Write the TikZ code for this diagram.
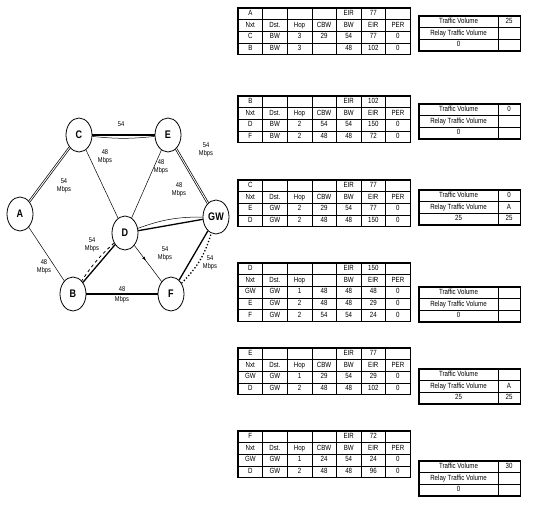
\documentclass[tikz,border=0pt]{standalone}
\usepackage{fontspec}
\setmainfont{Liberation Sans}
\newfontfamily\narrowfont[FakeStretch=0.82]{Liberation Sans}
\usetikzlibrary{positioning,shapes.geometric,arrows.meta,decorations.markings}
\tikzset{
  vert/.style={draw, ellipse, thick, minimum width=26pt, minimum height=34pt, inner sep=0pt,
    font=\narrowfont\fontsize{11}{11}\selectfont\bfseries, fill=white},
  link/.style={line width=1.3pt},
  dlink/.style={line width=0.7pt, double, double distance=0.9pt},
  weak/.style={line width=0.5pt},
  midarrow/.style={postaction={decorate}, decoration={markings,
    mark=at position 0.42 with {\arrow{Latex[length=4pt]}}}},
  lbl/.style={align=center, inner sep=0pt, font=\narrowfont\fontsize{7}{7.5}\selectfont},
  cell/.style={draw, line width=0.5pt, minimum width=24.6pt, minimum height=11.6pt, inner sep=0pt,
    text height=5.2pt, text depth=1.4pt, font=\narrowfont\fontsize{7.5}{7.5}\selectfont},
  wide/.style={cell, minimum width=79pt},
  narrow/.style={cell, minimum width=22pt},
  frame/.style={line width=1.3pt},
}
% routing table: name, top, number of rows, rows
\newcommand{\rtable}[4]{%
  \foreach \row [count=\i] in {#4} {
    \foreach \c [count=\j] in \row
      \node[cell] (#1-\i-\j) at ({238+24.6*(\j-0.5)}, {#2+11.6*(\i-0.5)}) {\vphantom{0}\c};
  }
  \draw[frame] (#1-1-1.north west) rectangle (#1-#3-7.south east);
}
% traffic box: name, top, volume, relay, left and right of last row
\newcommand{\volbox}[6]{%
  \node[wide] (#1-1-1) at (458.5, {#2+5.8}) {Traffic Volume};
  \node[narrow] (#1-1-2) at (509, {#2+5.8}) {\vphantom{0}#3};
  \node[wide] (#1-2-1) at (458.5, {#2+17.4}) {Relay Traffic Volume};
  \node[narrow] (#1-2-2) at (509, {#2+17.4}) {\vphantom{0}#4};
  \node[wide] (#1-3-1) at (458.5, {#2+29}) {\vphantom{0}#5};
  \node[narrow] (#1-3-2) at (509, {#2+29}) {\vphantom{0}#6};
  \draw[frame] (#1-1-1.north west) rectangle (#1-3-2.south east);
}

\begin{document}
\begin{tikzpicture}[x=1pt, y=-1pt]
  \useasboundingbox (0,0) rectangle (541,507);

  % network
  \node[vert] (A) at (20,214) {A};
  \node[vert] (C) at (79,135) {C};
  \node[vert] (E) at (168,135) {E};
  \node[vert] (GW) at (216,217) {GW};
  \node[vert] (D) at (125,233) {D};
  \node[vert] (B) at (73,294) {B};
  \node[vert] (F) at (171,294) {F};

  \draw[dlink] (A) -- (C);
  \draw[link] (C) -- (E);
  \draw[weak] (C) to[bend right=6] (E);
  \draw[weak] (C) -- (D);
  \draw[weak] (E) -- (D);
  \draw[dlink] (E) -- (GW);
  \draw[link] (D) -- (GW);
  \draw[weak] (D) to[bend left=10] (GW);
  \draw[weak] (A) -- (B);
  \draw[link] (D) -- (B);
  \draw[thick, dashed] (D) to[bend right=7] (B);
  \draw[weak, midarrow] (D) -- (F);
  \draw[link] (B) -- (F);
  \draw[link] (F) -- (GW);
  \draw[line width=1.3pt, dotted] (F) to[bend right=14] (GW);

  \node[lbl] (lCE) at (121,124) {54};
  \node[lbl] (lAC) at (64,186) {54\\Mbps};
  \node[lbl] (lCD) at (105,157) {48\\Mbps};
  \node[lbl] (lED) at (161,167) {48\\Mbps};
  \node[lbl] (lEG) at (206,150) {54\\Mbps};
  \node[lbl] (lDG) at (179,190) {48\\Mbps};
  \node[lbl] (lAB) at (44,267) {48\\Mbps};
  \node[lbl] (lDB) at (92,245) {54\\Mbps};
  \node[lbl] (lDF) at (165,254) {54\\Mbps};
  \node[lbl] (lFG) at (210,263) {54\\Mbps};
  \node[lbl, font=\narrowfont\fontsize{7}{10.5}\selectfont] (lBF) at (122,295) {48\\Mbps};

  % routing tables
  \rtable{tabA}{8}{4}{{A,{},{},{},EIR,77,{}},{Nxt,Dst.,Hop,CBW,BW,EIR,PER},
    {C,BW,3,29,54,77,0},{B,BW,3,{},48,102,0}}
  \rtable{tabB}{96}{4}{{B,{},{},{},EIR,102,{}},{Nxt,Dst.,Hop,CBW,BW,EIR,PER},
    {D,BW,2,54,54,150,0},{F,BW,2,48,48,72,0}}
  \rtable{tabC}{180}{4}{{C,{},{},{},EIR,77,{}},{Nxt,Dst.,Hop,CBW,BW,EIR,PER},
    {E,GW,2,29,54,77,0},{D,GW,2,48,48,150,0}}
  \rtable{tabD}{263}{5}{{D,{},{},{},EIR,150,{}},{Nxt,Dst.,Hop,{},BW,EIR,PER},
    {GW,GW,1,48,48,48,0},{E,GW,2,48,48,29,0},{F,GW,2,54,54,24,0}}
  \rtable{tabE}{348}{4}{{E,{},{},{},EIR,77,{}},{Nxt,Dst.,Hop,CBW,BW,EIR,PER},
    {GW,GW,1,29,54,29,0},{D,GW,2,48,48,102,0}}
  \rtable{tabF}{431}{4}{{F,{},{},{},EIR,72,{}},{Nxt,Dst.,Hop,CBW,BW,EIR,PER},
    {GW,GW,1,24,54,24,0},{D,GW,2,48,48,96,0}}

  % traffic boxes
  \volbox{volA}{16}{25}{}{0}{}
  \volbox{volB}{104}{0}{}{0}{}
  \volbox{volC}{190}{0}{A}{25}{25}
  \volbox{volD}{287}{}{}{0}{}
  \volbox{volE}{369}{}{A}{25}{25}
  \volbox{volF}{461}{30}{}{0}{}
\end{tikzpicture}
\end{document}
